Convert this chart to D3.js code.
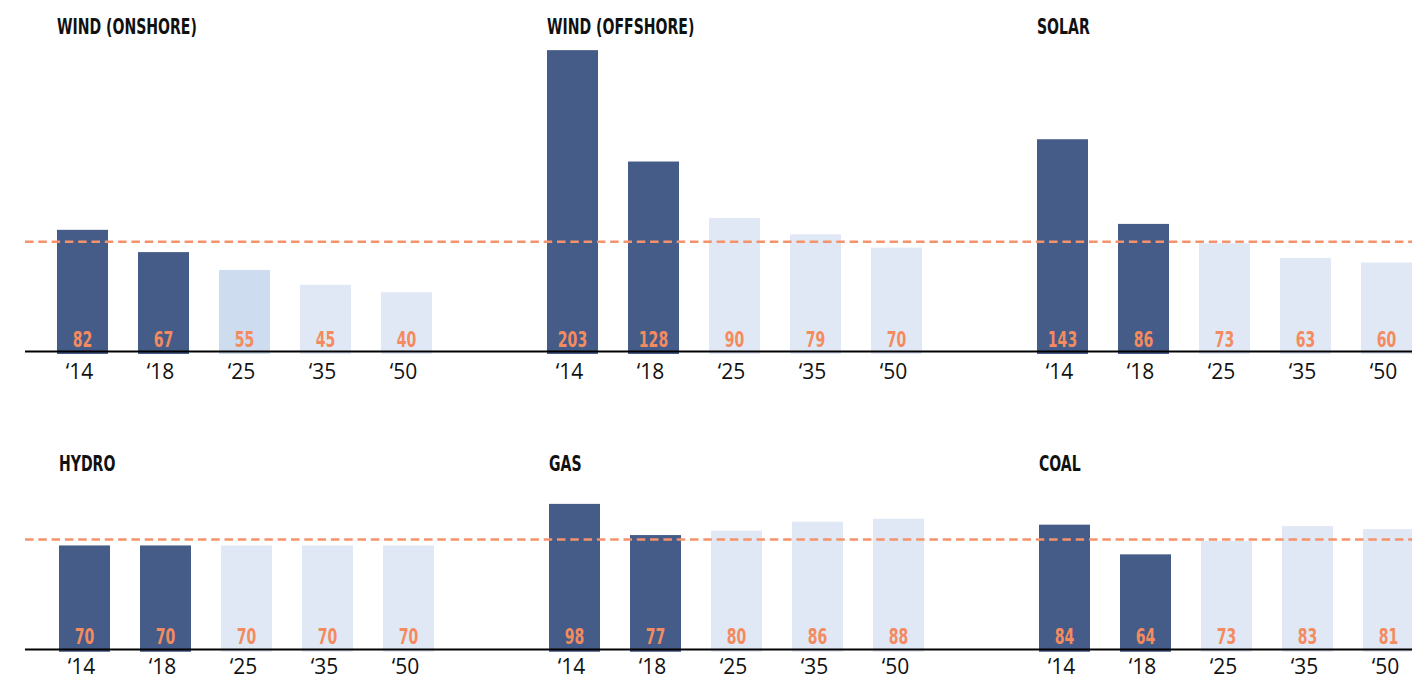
<!DOCTYPE html>
<html><head><meta charset="utf-8">
<script src="https://cdn.jsdelivr.net/npm/d3@7/dist/d3.min.js"></script>
<style>
html,body{margin:0;padding:0;background:#fff;}
svg{display:block;}
.cond{font-family:'DejaVu Sans Condensed','DejaVu Sans',sans-serif;font-stretch:condensed;font-weight:bold;}
</style>
</head><body>
<svg id="chart" width="1412" height="676"></svg>
<script>
// ---- data ----
const years = ["‘14", "‘18", "‘25", "‘35", "‘50"];
const panels = ["WIND (ONSHORE)", "WIND (OFFSHORE)", "SOLAR", "HYDRO", "GAS", "COAL"];
const windOnshore  = [82, 67, 55, 45, 40];
const windOffshore = [203, 128, 90, 79, 70];
const solar        = [143, 86, 73, 63, 60];
const hydro        = [70, 70, 70, 70, 70];
const gas          = [98, 77, 80, 86, 88];
const coal         = [84, 64, 73, 83, 81];
const seriesValues = [windOnshore, windOffshore, solar, hydro, gas, coal];
const referenceValue = 74;   // dashed line
const historicCount = 2;     // '14, '18 are actual values

// ---- layout ----
const W = 1412;
const rowBaselines = [351.6, 649.4];
const rowShift = [0, 2];
const titleY = [34, 471];
const tickOffset = [27.4, 24.8];
const colScale = d3.scaleBand().domain([0,1,2]).range([57, 57 + 3*490]);
const yearScale = d3.scaleBand().domain(years).range([0, 375]).paddingInner(30/81).paddingOuter(0);
const yScale = d3.scaleLinear().domain([0, 100]).range([0, 148.5]);

const colDark = "#455b88";
const colLight = "#e0e8f5";
const colLightAlt = "#cddcef";
const colOrange = "#f48b5f";
const colDash = "#f5926a";

const svg = d3.select("#chart");

// condense text horizontally to mimic a condensed face
function condense(sel, ratio) {
  sel.each(function() {
    const t = d3.select(this);
    const x = +t.attr("x"), y = +t.attr("y");
    t.attr("transform", `translate(${x},${y}) scale(${ratio},1) translate(${-x},${-y})`);
  });
}

panels.forEach((title, i) => {
  const row = Math.floor(i / 3), col = i % 3;
  const base = rowBaselines[row];
  const x0 = colScale(col) + rowShift[row];
  const g = svg.append("g").attr("transform", `translate(${x0},0)`);
  const vals = seriesValues[i];
  const data = years.map((y, k) => ({year: y, value: vals[k], k}));

  g.append("text")
    .attr("class", "cond title")
    .attr("x", 0).attr("y", titleY[row])
    .attr("font-size", 20.5)
    .attr("fill", "#111")
    .text(title);

  g.selectAll("rect.bar").data(data).enter().append("rect")
    .attr("class", "bar")
    .attr("x", d => yearScale(d.year))
    .attr("width", yearScale.bandwidth())
    .attr("y", d => base - yScale(d.value))
    .attr("height", d => yScale(d.value) + 2.4)
    .attr("fill", d => d.k < historicCount ? colDark : (i === 0 && d.k === 2 ? colLightAlt : colLight));

  g.selectAll("text.val").data(data).enter().append("text")
    .attr("class", "cond val")
    .attr("x", d => yearScale(d.year) + yearScale.bandwidth()/2)
    .attr("y", base - 5)
    .attr("text-anchor", "middle")
    .attr("font-size", 21.5)
    .attr("fill", colOrange)
    .text(d => d.value);

  g.selectAll("text.tick").data(data).enter().append("text")
    .attr("class", "tick")
    .attr("x", d => yearScale(d.year) + yearScale.bandwidth()/2 - 3)
    .attr("y", base + tickOffset[row])
    .attr("text-anchor", "middle")
    .attr("font-family", "'Open Sans', 'Noto Sans', sans-serif")
    .attr("font-size", 21)
    .attr("fill", "#111")
    .text(d => d.year);
});

rowBaselines.forEach(base => {
  svg.append("line")
    .attr("x1", 25).attr("x2", W)
    .attr("y1", base).attr("y2", base)
    .attr("stroke", "#000").attr("stroke-width", 2);
  const yRef = base - yScale(referenceValue);
  svg.append("line")
    .attr("x1", 25).attr("x2", W)
    .attr("y1", yRef).attr("y2", yRef)
    .attr("stroke", colDash).attr("stroke-width", 2.5)
    .attr("stroke-dasharray", "8.5,4.8");
});

// if no condensed face was found, squeeze the bold labels to condensed proportions
const probe = svg.select("text.title").node();
if (probe) {
  const ratio = 140 / probe.getComputedTextLength();   // reference width of first title
  if (ratio < 0.95) svg.selectAll("text.title").call(condense, ratio);
}
const probeVal = svg.select("text.val").node();
if (probeVal) {
  const ratioV = 19.6 / probeVal.getComputedTextLength(); // reference width of "82"
  if (ratioV < 0.95) svg.selectAll("text.val").call(condense, ratioV);
}
</script>
</body></html>
